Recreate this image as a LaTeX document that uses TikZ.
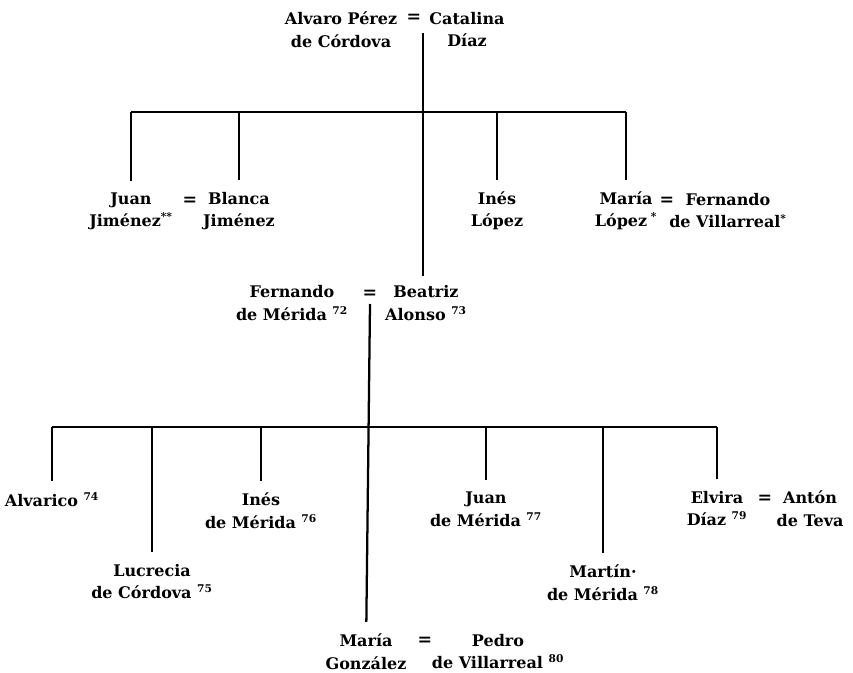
\documentclass[tikz,border=0pt]{standalone}
\usepackage{fontspec}
\setmainfont{DejaVu Serif}
\begin{document}
\begin{tikzpicture}[x=0.75pt,y=-0.75pt, line width=1.7pt,
  person/.style={align=center, inner xsep=1pt, inner ysep=8pt, font=\fontsize{12}{17}\selectfont\bfseries},
  personB/.style={person, font=\fontsize{12}{16.5}\selectfont\bfseries},
  eqs/.style={inner sep=0pt, font=\fontsize{13}{13}\selectfont\bfseries}]
\useasboundingbox (0,0) rectangle (853,673);
% generation 1
\node[person] (alvaro) at (341,29.5) {Alvaro Pérez\\de Córdova};
\node[eqs] (eq1) at (414,18) {=};
\node[person] (catalina) at (467,29.5) {Catalina\\Díaz};
\coordinate (topA) at (423,33);
\coordinate (topBar) at (423,112);
\coordinate (topEnd) at (423,276);
% generation 2
\node[personB] (juanJ) at (131,211) {Juan\\Jiménez\textsuperscript{**}};
\node[eqs] (eq2) at (190,201) {=};
\node[personB] (blanca) at (239,211) {Blanca\\Jiménez};
\node[personB] (inesL) at (497,211) {Inés\\López};
\node[personB] (mariaL) at (626,211) {María\\López\textsuperscript{ *}};
\node[eqs] (eq3) at (667,201) {=};
\node[personB] (fernandoV) at (728,211) {Fernando\\de Villarreal\textsuperscript{*}};
\node[person] (fernando) at (292,303) {Fernando\\de Mérida \textsuperscript{72}};
\node[eqs] (eq4) at (370,294) {=};
\node[person] (beatriz) at (426,303) {Beatriz\\Alonso \textsuperscript{73}};
\coordinate (midA) at (370,304);
\coordinate (lowBar) at (370,427);
% generation 3
\node[person] (alvarico) at (52,500) {Alvarico \textsuperscript{74}};
\node[person] (lucrecia) at (152,581.5) {Lucrecia\\de Córdova \textsuperscript{75}};
\node[person] (inesM) at (261,511) {Inés\\de Mérida \textsuperscript{76}};
\node[person] (juanM) at (486,509) {Juan\\de Mérida \textsuperscript{77}};
\node[person] (martin) at (603,582.5) {Martín·\\de Mérida \textsuperscript{78}};
\node[person] (elvira) at (717,508.5) {Elvira\\Díaz \textsuperscript{79}};
\node[eqs] (eq5) at (765,499) {=};
\node[person] (anton) at (810,508.5) {Antón\\de Teva};
\node[person] (mariaG) at (366,651.5) {María\\González};
\node[eqs] (eq6) at (425,641) {=};
\node[person] (pedro) at (498,651.5) {Pedro\\de Villarreal \textsuperscript{80}};
% connectors
\draw (topA) -- (topEnd);
\draw (juanJ |- topBar) -- (mariaL |- topBar);
\foreach \n in {juanJ,blanca,inesL,mariaL} \draw (\n |- topBar) -- (\n);
\draw (midA) -- (mariaG);
\draw (alvarico |- lowBar) -- (elvira |- lowBar);
\foreach \n in {alvarico,lucrecia,inesM,juanM,martin,elvira} \draw (\n |- lowBar) -- (\n);
\end{tikzpicture}
\end{document}
